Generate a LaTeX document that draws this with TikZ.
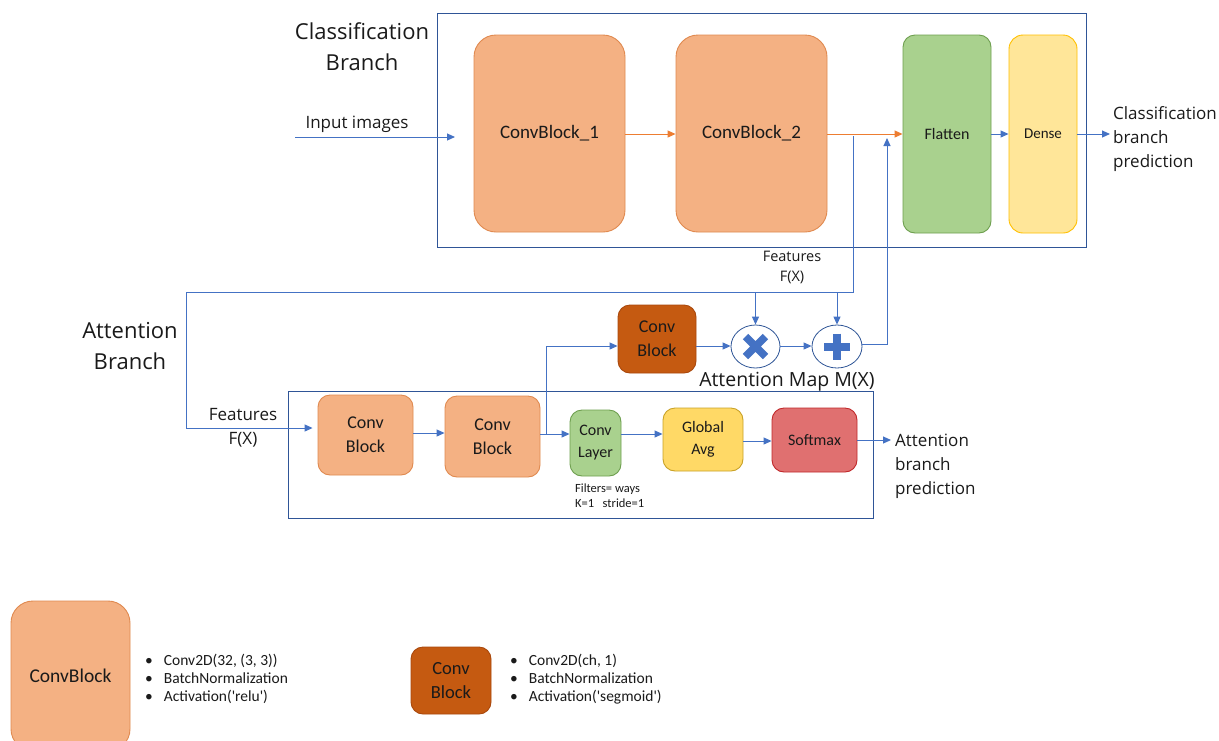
\documentclass[tikz,border=0pt]{standalone}
\usepackage{fontspec}
\setmainfont{Open Sans}
\newfontfamily\boxfont{Carlito}
\usetikzlibrary{arrows.meta,shapes.geometric}
\definecolor{lineblue}{HTML}{4472C4}
\definecolor{frameblue}{HTML}{2F5597}
\definecolor{convfill}{HTML}{F4B183}
\definecolor{convdraw}{HTML}{E08A50}
\definecolor{darkfill}{HTML}{C55A11}
\definecolor{darkdraw}{HTML}{A9480C}
\definecolor{greenfill}{HTML}{A9D18E}
\definecolor{greendraw}{HTML}{6E9F4F}
\definecolor{lyellfill}{HTML}{FFE699}
\definecolor{lyelldraw}{HTML}{FFC000}
\definecolor{yellfill}{HTML}{FFD966}
\definecolor{yelldraw}{HTML}{C9A227}
\definecolor{redfill}{HTML}{E07070}
\definecolor{reddraw}{HTML}{C0282A}
\definecolor{orangeline}{HTML}{ED7D31}
\definecolor{txt}{HTML}{1A1A1A}
\tikzset{
  blk/.style={rectangle, rounded corners=#1, line width=0.9pt, inner sep=0pt, align=center, text=txt},
  blk/.default=10pt,
  convbig/.style={blk=22pt, fill=convfill, draw=convdraw, font=\boxfont\fontsize{19}{23}\selectfont},
  convsm/.style={blk=12pt, fill=convfill, draw=convdraw, font=\boxfont\fontsize{18}{24}\selectfont},
  darkblk/.style={blk=12pt, fill=darkfill, draw=darkdraw, font=\boxfont\fontsize{18}{24}\selectfont},
  greenblk/.style={blk=12pt, fill=greenfill, draw=greendraw, font=\boxfont\fontsize{16}{22}\selectfont},
  yellblk/.style={blk=12pt, fill=yellfill, draw=yelldraw, font=\boxfont\fontsize{16}{22}\selectfont},
  redblk/.style={blk=12pt, fill=redfill, draw=reddraw, font=\boxfont\fontsize{16}{22}\selectfont},
  lyellblk/.style={blk=14pt, fill=lyellfill, draw=lyelldraw, font=\boxfont\fontsize{16}{22}\selectfont},
  opcirc/.style={ellipse, draw=frameblue, line width=0.8pt, fill=white, inner sep=0pt},
  frame/.style={draw=frameblue, line width=1pt},
  conn/.style={draw=lineblue, line width=1pt, -{Triangle[length=8pt,width=7pt]}},
  plainconn/.style={draw=lineblue, line width=1pt},
  oconn/.style={draw=orangeline, line width=1pt, -{Triangle[length=8pt,width=7pt]}},
  lbl/.style={text=txt, font=\fontsize{17}{24}\selectfont, align=left, inner sep=0pt},
  head/.style={text=txt, font=\fontsize{22}{31}\selectfont, align=center, inner sep=0pt},
  note/.style={text=txt, font=\boxfont\fontsize{12.5}{15}\selectfont, align=left, inner sep=0pt},
  bullets/.style={text=txt, font=\boxfont\fontsize{15.5}{18}\selectfont, align=left, inner sep=0pt},
}
\begin{document}
\begin{tikzpicture}[x=1pt,y=-1pt]
\useasboundingbox (0,0) rectangle (1219,740);
\fill[white] (0,0) rectangle (1219,740);

% frames
\draw[frame] (437,13) rectangle (1086,247);
\draw[frame] (288,391) rectangle (873,518);

% classification branch
\node[convbig, minimum width=151pt, minimum height=197pt] (cb1) at (549.5,133.5) {ConvBlock\_1};
\node[convbig, minimum width=151pt, minimum height=197pt] (cb2) at (751.5,133.5) {ConvBlock\_2};
\node[greenblk, minimum width=88pt, minimum height=198pt] (flat) at (947,134) {Flatten};
\node[lyellblk, font=\boxfont\fontsize{15}{20}\selectfont, minimum width=68pt, minimum height=198pt] (dense) at (1043,134) {Dense};

\node[head] (clshead) at (362,47) {Classification\\Branch};
\node[lbl] (inlbl) at (357,124) {Input images};
\node[lbl, anchor=west] (clspred) at (1113,139) {Classification\\branch\\prediction};

\coordinate (inS) at (295,137);
\coordinate (inE) at (455,137);
\draw[conn] (inS) -- (inE);
\draw[oconn] (cb1.east |- 0,134) -- (cb2.west |- 0,134);
\draw[oconn] (cb2.east |- 0,134) -- (flat.west |- 0,134);
\draw[conn] (flat.east |- 0,134) -- (dense.west |- 0,134);
\coordinate (clsout) at (1110,134);
\draw[conn] (dense.east |- 0,134) -- (clsout);

% attention branch
\node[head] (atthead) at (130,346) {Attention\\Branch};
\node[convsm, minimum width=95pt, minimum height=80pt] (acb1) at (365.5,435) {Conv\\Block};
\node[convsm, minimum width=95pt, minimum height=81pt] (acb2) at (492.5,436.5) {Conv\\Block};
\node[darkblk, minimum width=78pt, minimum height=68pt] (dcb) at (657,339) {Conv\\Block};
\node[greenblk, minimum width=51pt, minimum height=66pt] (cl) at (595.5,443) {Conv\\Layer};
\node[yellblk, minimum width=80pt, minimum height=63pt] (ga) at (703,439.5) {Global\\Avg};
\node[redblk, minimum width=85pt, minimum height=64pt] (sm) at (814.5,440) {Softmax};
\node[opcirc, minimum width=49pt, minimum height=43pt] (mul) at (755.5,346.5) {};
\node[opcirc, minimum width=50pt, minimum height=43pt] (add) at (837,346.5) {};
\draw[lineblue, line width=7.5pt] ([shift={(-10,-10)}]mul.center) -- ([shift={(10,10)}]mul.center)
  ([shift={(-10,10)}]mul.center) -- ([shift={(10,-10)}]mul.center);
\draw[lineblue, line width=8pt] ([shift={(-13,0)}]add.center) -- ([shift={(13,0)}]add.center)
  ([shift={(0,-13)}]add.center) -- ([shift={(0,13)}]add.center);

\node[lbl, font=\fontsize{14.5}{20}\selectfont, align=center] (feat1) at (792,267) {Features\\F(X)};
\node[lbl, align=center] (feat2) at (243,428) {Features\\F(X)};
\node[lbl, font=\fontsize{19.5}{24}\selectfont] (amap) at (787,382) {Attention Map M(X)};
\node[note, anchor=north west] (filt) at (575,484) {Filters= ways\\K=1\ \ \ stride=1};
\node[lbl, anchor=west] (attpred) at (895,466) {Attention\\branch\\prediction};

% feature path
\coordinate (ftop) at (853,136);
\coordinate (fcorner) at (853,292);
\coordinate (fleft) at (186,292);
\coordinate (fdown) at (186,428);
\draw[conn, shorten >=5pt] (ftop) -- (fcorner) -- (fleft) -- (fdown) -- (acb1.west |- fdown);
\draw[conn] (mul.north |- fcorner) -- (mul.north);
\draw[conn] (add.north |- fcorner) -- (add.north);

\draw[conn] (acb1.east |- 0,433) -- (acb2.west |- 0,433);
\coordinate (br) at (546,434);
\draw[plainconn] (acb2.east |- br) -- (br);
\draw[conn] (br) -- (cl.west |- br);
\draw[conn] (br) |- (dcb.west |- 0,346);
\draw[conn] (dcb.east |- 0,346) -- (mul.west |- 0,346);
\draw[conn] (mul.east |- 0,346) -- (add.west |- 0,346);
\coordinate (upc) at (887,344);
\coordinate (upend) at (887,138);
\draw[conn] (add.east |- upc) -- (upc) -- (upend);

\draw[conn] (cl.east |- 0,434) -- (ga.west |- 0,434);
\draw[conn] (ga.east |- 0,441) -- (sm.west |- 0,441);
\coordinate (attout) at (891,440);
\draw[conn] (sm.east |- attout) -- (attout);

% legend
\node[convbig, font=\boxfont\fontsize{19.5}{24}\selectfont, minimum width=119pt, minimum height=150pt] (lcb) at (70.5,676) {ConvBlock};
\node[bullets, anchor=west] (lcbtxt) at (145,679) {\textbullet\hspace{11pt}Conv2D(32, (3, 3))\\\textbullet\hspace{11pt}BatchNormalization\\\textbullet\hspace{11pt}Activation('relu')};
\node[darkblk, font=\boxfont\fontsize{18.5}{24}\selectfont, minimum width=80pt, minimum height=67pt] (ldcb) at (451,680.5) {Conv\\Block};
\node[bullets, anchor=west] (ldcbtxt) at (510,679) {\textbullet\hspace{11pt}Conv2D(ch, 1)\\\textbullet\hspace{11pt}BatchNormalization\\\textbullet\hspace{11pt}Activation('segmoid')};
\end{tikzpicture}
\end{document}
